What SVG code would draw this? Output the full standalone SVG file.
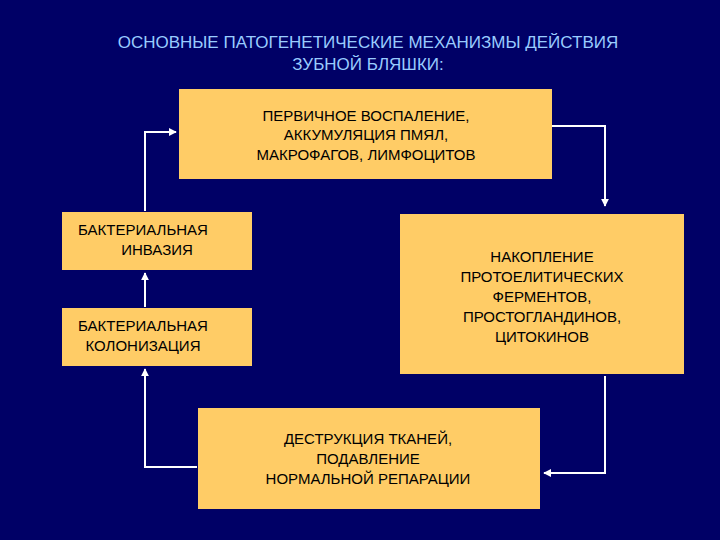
<svg xmlns="http://www.w3.org/2000/svg" width="720" height="540" viewBox="0 0 720 540">
<defs>
<style>
.box{fill:#FFCC66}
.t{font-family:"Liberation Sans",Arial,sans-serif;font-size:15px;fill:#000;text-anchor:middle}
.ttl{font-family:"Liberation Sans",Arial,sans-serif;font-size:17px;fill:#99CCFF;text-anchor:middle}
.c{fill:none;stroke:#fff;stroke-width:2}
</style>
<marker id="a" viewBox="0 0 10 10" refX="9" refY="5" markerWidth="4" markerHeight="4" orient="auto"><path d="M0,0L10,5L0,10z" fill="#fff"/></marker>
</defs>
<rect width="720" height="540" fill="#000066"/>
<text class="ttl" x="368" y="48">ОСНОВНЫЕ ПАТОГЕНЕТИЧЕСКИЕ МЕХАНИЗМЫ ДЕЙСТВИЯ</text>
<text class="ttl" x="368" y="70">ЗУБНОЙ БЛЯШКИ:</text>
<g id="connectors">
<path class="c" d="M552,126H605V206" marker-end="url(#a)"/>
<path class="c" d="M605,376V473H544" marker-end="url(#a)"/>
<path class="c" d="M197,467H145V369" marker-end="url(#a)"/>
<path class="c" d="M145,307V273" marker-end="url(#a)"/>
<path class="c" d="M145,211V132H176" marker-end="url(#a)"/>
</g>
<g id="n1"><rect class="box" x="179" y="89" width="373" height="90"/>
<text class="t" x="366" y="121">ПЕРВИЧНОЕ ВОСПАЛЕНИЕ,</text><text class="t" x="366" y="140">АККУМУЛЯЦИЯ ПМЯЛ,</text><text class="t" x="366" y="160">МАКРОФАГОВ, ЛИМФОЦИТОВ</text></g>
<g id="n2"><rect class="box" x="62" y="212" width="190" height="58"/>
<text class="t" x="143" y="235">БАКТЕРИАЛЬНАЯ</text><text class="t" x="157" y="255">ИНВАЗИЯ</text></g>
<g id="n3"><rect class="box" x="62" y="308" width="190" height="58"/>
<text class="t" x="143" y="331">БАКТЕРИАЛЬНАЯ</text><text class="t" x="143" y="351">КОЛОНИЗАЦИЯ</text></g>
<g id="n4"><rect class="box" x="400" y="214" width="284" height="160"/>
<text class="t" x="542" y="262">НАКОПЛЕНИЕ</text><text class="t" x="542" y="282">ПРОТОЕЛИТИЧЕСКИХ</text><text class="t" x="542" y="302">ФЕРМЕНТОВ,</text><text class="t" x="542" y="322">ПРОСТОГЛАНДИНОВ,</text><text class="t" x="542" y="342">ЦИТОКИНОВ</text></g>
<g id="n5"><rect class="box" x="198" y="408" width="342" height="101"/>
<text class="t" x="368" y="444">ДЕСТРУКЦИЯ ТКАНЕЙ,</text><text class="t" x="368" y="464">ПОДАВЛЕНИЕ</text><text class="t" x="368" y="484">НОРМАЛЬНОЙ РЕПАРАЦИИ</text></g>
</svg>
